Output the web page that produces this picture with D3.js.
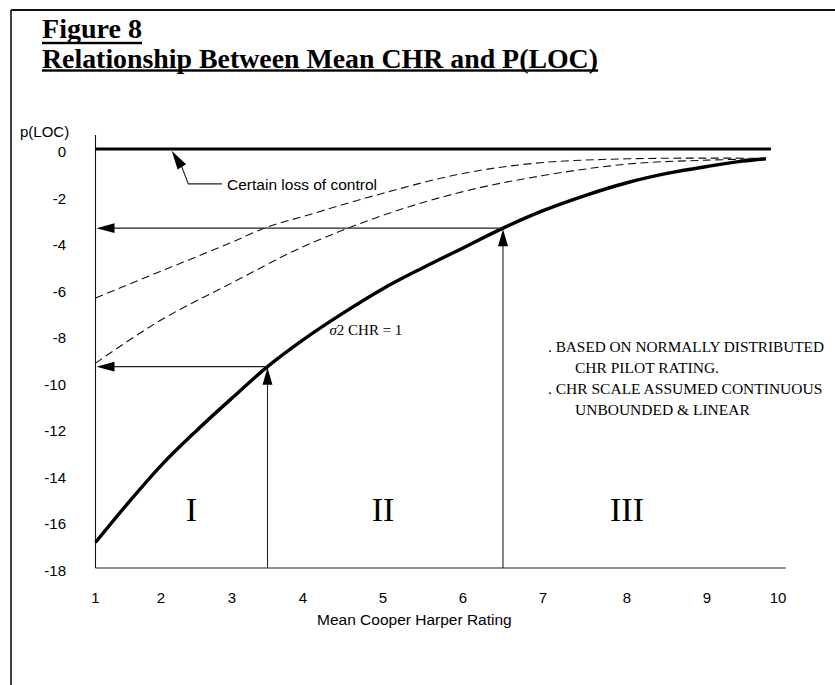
<!DOCTYPE html>
<html><head><meta charset="utf-8">
<script src="https://cdn.jsdelivr.net/npm/d3@7/dist/d3.min.js"></script>
<style>html,body{margin:0;padding:0;background:#fff;}svg{display:block;}</style>
</head><body>
<svg id="chart" width="835" height="685"></svg>
<script>
// ---- data ----
const xTickValues = [1,2,3,4,5,6,7,8,9,10];
const yTickValues = [0,-2,-4,-6,-8,-10,-12,-14,-16,-18];
const chrX = [1,1.5,2,2.5,3,3.5,4,4.5,5,5.5,6,6.5,7,7.5,8,8.5,9,9.5,9.83];
const chrY = [-16.9,-15.2,-13.6,-12.1,-10.7,-9.35,-8.2,-7.05,-6.0,-5.1,-4.25,-3.4,-2.65,-2.0,-1.45,-1.05,-0.75,-0.52,-0.42];
const upperDashX = [1,2,3,3.5,4,5,6,7,7.7,8,9,9.83];
const upperDashY = [-6.4,-5.25,-4.0,-3.35,-2.9,-1.9,-1.05,-0.58,-0.45,-0.42,-0.39,-0.4];
const lowerDashX = [1,2,3,4,4.6,5,6,7,7.7,8,9,9.83];
const lowerDashY = [-9.2,-7.35,-5.75,-4.2,-3.35,-2.85,-1.83,-1.14,-0.77,-0.65,-0.48,-0.42];
const readX = [3.5, 6.5];
const readY = [-9.35, -3.4];
const regionNames = ["I","II","III"];
const regionX = [2.43, 5, 8];
const certainPath = [[2.15,-0.08],[2.29,-0.75],[2.385,-1.5],[2.86,-1.5]];
const notes = [". BASED ON NORMALLY DISTRIBUTED","CHR PILOT RATING.",". CHR SCALE ASSUMED CONTINUOUS","UNBOUNDED & LINEAR"];
const noteIndent = [false,true,false,true];

// ---- scales ----
const svg = d3.select("#chart");
const x = d3.scaleLinear().domain(xTickValues).range([95.5,161,232,303,383,463,543,627,707,778]);
const y = d3.scaleLinear().domain([-18,0]).range([568,149]);

// frame
svg.append("line").attr("x1",11).attr("x2",835).attr("y1",10).attr("y2",10).attr("stroke","#111").attr("stroke-width",2);
svg.append("line").attr("x1",11).attr("x2",11).attr("y1",10).attr("y2",685).attr("stroke","#111").attr("stroke-width",1.6);

// titles
const titles = [["Figure 8",37.5,43,100],["Relationship Between Mean CHR and P(LOC)",67.5,70.5,556]];
titles.forEach(([t,by,uy,w])=>{
  svg.append("text").attr("x",42).attr("y",by).text(t)
    .attr("font-family","'Liberation Serif','Times New Roman',serif").attr("font-weight","bold")
    .attr("font-size",26.5).attr("fill","#000")
    .attr("textLength",w).attr("lengthAdjust","spacingAndGlyphs");
  svg.append("rect").attr("x",42).attr("y",uy-1.2).attr("width",w).attr("height",2.4).attr("fill","#000");
});

const sans = "'Liberation Sans',Arial,sans-serif";
const serif = "'Liberation Serif','Times New Roman',serif";

// axes lines
svg.append("line").attr("x1",x(1)).attr("x2",x(1)).attr("y1",y(0.6)).attr("y2",y(-18)).attr("stroke","#111").attr("stroke-width",1.1);
svg.append("line").attr("x1",x(1)).attr("x2",x(10.11)).attr("y1",y(-18)).attr("y2",y(-18)).attr("stroke","#222").attr("stroke-width",1.1);

// y tick labels
svg.selectAll(".ytl").data(yTickValues).enter().append("text")
  .attr("x",66).attr("y",d=>y(d)+8).attr("text-anchor","end")
  .attr("font-family",sans).attr("font-size",15).attr("fill","#000").text(d=>d);
svg.append("text").attr("x",20).attr("y",137).attr("font-family",sans).attr("font-size",15).attr("fill","#000").text("p(LOC)");

// x tick labels
svg.selectAll(".xtl").data(xTickValues).enter().append("text")
  .attr("x",d=>x(d)).attr("y",603).attr("text-anchor","middle")
  .attr("font-family",sans).attr("font-size",15).attr("fill","#000").text(d=>d);
svg.append("text").attr("x",317).attr("y",625).attr("font-family",sans).attr("font-size",15.5).attr("fill","#000").text("Mean Cooper Harper Rating");

// top thick line (certain loss of control, p=0)
svg.append("line").attr("x1",x(1)).attr("x2",x(9.9)).attr("y1",y(0)).attr("y2",y(0)).attr("stroke","#000").attr("stroke-width",3.2);

const line = d3.line().x(d=>x(d[0])).y(d=>y(d[1])).curve(d3.curveMonotoneX);
// dashed curves
[[upperDashX,upperDashY],[lowerDashX,lowerDashY]].forEach(([xs,ys])=>{
  svg.append("path").attr("d",line(xs.map((v,i)=>[v,ys[i]])))
    .attr("fill","none").attr("stroke","#111").attr("stroke-width",1.1).attr("stroke-dasharray","8,4.5");
});
// main curve
svg.append("path").attr("d",line(chrX.map((v,i)=>[v,chrY[i]])))
  .attr("fill","none").attr("stroke","#000").attr("stroke-width",3.4).attr("stroke-linejoin","round");

// arrowhead helper
function arrowHead(tx,ty,fx,fy,len,half){
  const dx=tx-fx, dy=ty-fy, L=Math.hypot(dx,dy), ux=dx/L, uy=dy/L;
  const bx=tx-ux*len, by=ty-uy*len;
  svg.append("path").attr("d",`M${tx},${ty}L${bx-uy*half},${by+ux*half}L${bx+uy*half},${by-ux*half}Z`).attr("fill","#000");
}

// reading lines with arrows
readX.forEach((rx,i)=>{
  const ry = readY[i];
  svg.append("line").attr("x1",x(rx)).attr("x2",x(rx)).attr("y1",y(-18)).attr("y2",y(ry)+10).attr("stroke","#222").attr("stroke-width",1.1);
  arrowHead(x(rx),y(ry)+1,x(rx),y(-18),17,5);
  svg.append("line").attr("x1",x(rx)).attr("x2",x(1)+10).attr("y1",y(ry)).attr("y2",y(ry)).attr("stroke","#222").attr("stroke-width",1.1);
  arrowHead(x(1)+1,y(ry),x(rx),y(ry),18,4.8);
});

// certain loss of control annotation
svg.append("path").attr("d",d3.line().x(d=>x(d[0])).y(d=>y(d[1]))(certainPath.slice(1)))
  .attr("fill","none").attr("stroke","#222").attr("stroke-width",1.1);
arrowHead(x(certainPath[0][0]),y(certainPath[0][1]),x(certainPath[1][0]),y(certainPath[1][1]),19,5);
svg.append("text").attr("x",x(certainPath[3][0])+5).attr("y",y(certainPath[3][1])+6)
  .attr("font-family",sans).attr("font-size",15.5).attr("fill","#000").text("Certain loss of control");

// sigma label
const sig = svg.append("text").attr("x",x(4.33)).attr("y",y(-8.0)).attr("font-family",serif).attr("font-size",15).attr("fill","#000");
sig.append("tspan").attr("font-style","italic").text("σ");
sig.append("tspan").text("2 CHR = 1");

// region numerals
svg.selectAll(".reg").data(regionNames).enter().append("text")
  .attr("x",(d,i)=>x(regionX[i])).attr("y",y(-16.0)).attr("text-anchor","middle")
  .attr("font-family",serif).attr("font-size",34).attr("fill","#000").text(d=>d);

// notes
const noteBase = [352,373,394,415];
notes.forEach((t,i)=>{
  const x0 = noteIndent[i]?575:548;
  const nt = svg.append("text").attr("x",x0).attr("y",noteBase[i])
    .attr("font-family",serif).attr("font-size",15.5).attr("fill","#000").text(t);
  const w = nt.node().getComputedTextLength();
  const avail = 824 - x0;
  if (w > avail) nt.attr("textLength",avail).attr("lengthAdjust","spacingAndGlyphs");
});
</script>
</body></html>
